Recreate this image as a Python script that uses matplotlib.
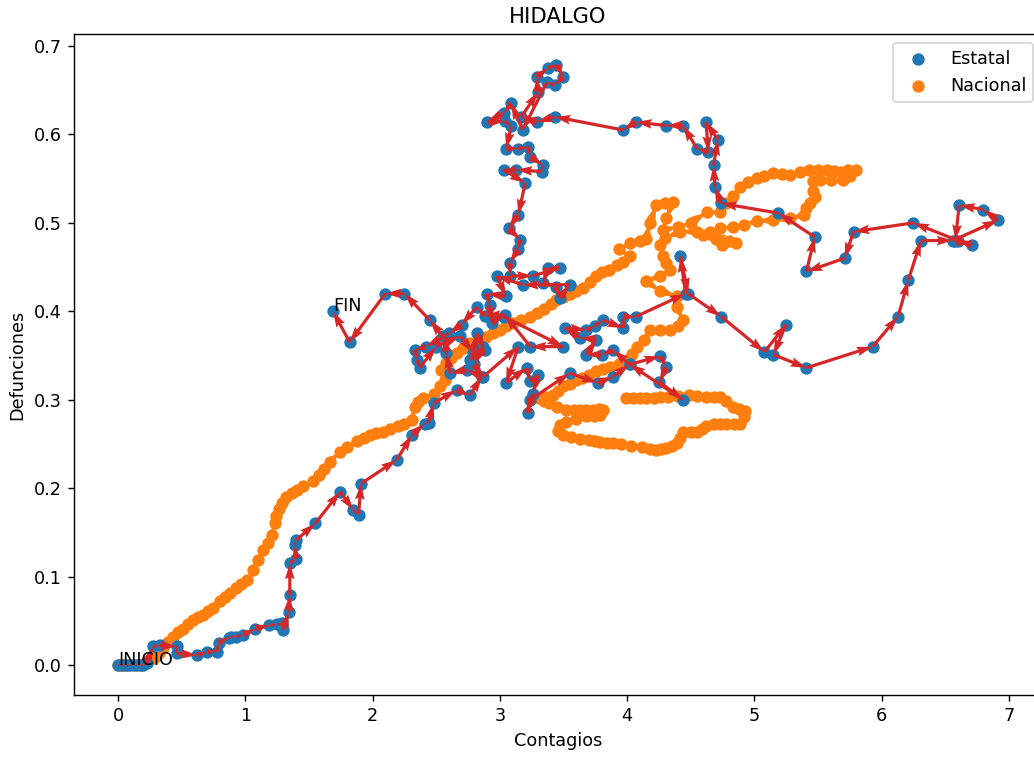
import numpy as np
import matplotlib
matplotlib.use("Agg")
import matplotlib.pyplot as plt

# Estatal (Hidalgo): contagios vs defunciones, in time order
estatal_x = [0.00, 0.03, 0.06, 0.09, 0.12, 0.15, 0.18, 0.20, 0.225, 0.275, 0.33, 0.46, 0.46,
             0.62, 0.70, 0.775, 0.79, 0.87, 0.89, 0.93, 0.985, 1.08, 1.19, 1.25, 1.29, 1.30,
             1.34, 1.35, 1.35, 1.40, 1.39, 1.40, 1.55, 1.745, 1.85, 1.89, 1.91, 2.19, 2.31,
             2.41, 2.44, 2.48, 2.66, 2.765, 2.86, 2.74, 2.61, 2.58, 2.57, 2.42, 2.33, 2.35,
             2.37, 2.50, 2.69, 2.79, 2.82, 2.88, 2.765, 2.87, 2.80, 2.87, 3.145, 3.05, 3.21,
             3.24, 3.30, 3.26, 3.22, 3.24, 3.55, 3.77, 3.89, 4.02, 4.26, 4.31, 4.255, 4.44,
             4.02, 3.89, 3.80, 3.68, 3.76, 3.63, 3.51, 3.68, 3.75, 3.81, 3.97, 3.97, 4.07,
             4.46, 4.42, 4.48, 4.74, 5.08, 5.25, 5.15, 5.41, 5.93, 6.13, 6.21, 6.31, 6.56,
             6.915, 6.80, 6.61, 6.58, 6.71, 6.60, 6.25, 5.78, 5.71, 5.41, 5.475, 5.19, 4.74,
             4.69, 4.68, 4.715, 4.62, 4.64, 4.55, 4.44, 4.31, 4.07, 3.97, 3.43, 3.29, 3.17,
             3.30, 3.29, 3.38, 3.445, 3.50, 3.43, 3.37, 3.18, 3.09, 3.03, 2.90, 3.04, 3.09,
             3.05, 3.145, 3.22, 3.24, 3.34, 3.33, 3.13, 3.03, 3.20, 3.145, 3.07, 3.16, 3.145,
             3.08, 3.08, 3.26, 3.47, 3.38, 3.34, 3.44, 3.47, 3.55, 3.18, 2.975, 3.05, 2.90,
             2.92, 2.935, 3.03, 3.50, 3.24, 3.04, 2.88, 2.82, 2.70, 2.60, 2.55, 2.45, 2.25,
             2.10, 1.82, 1.69]
estatal_y = [0.000, 0.000, 0.000, 0.000, 0.000, 0.000, 0.000, 0.000, 0.002, 0.021, 0.022, 0.021, 0.013,
             0.011, 0.015, 0.015, 0.025, 0.031, 0.032, 0.032, 0.034, 0.041, 0.045, 0.046, 0.047, 0.040,
             0.060, 0.079, 0.115, 0.120, 0.136, 0.141, 0.160, 0.196, 0.175, 0.170, 0.205, 0.232, 0.260,
             0.273, 0.274, 0.296, 0.311, 0.305, 0.326, 0.334, 0.330, 0.353, 0.372, 0.360, 0.356, 0.345,
             0.336, 0.360, 0.372, 0.353, 0.375, 0.356, 0.345, 0.360, 0.340, 0.326, 0.360, 0.319, 0.336,
             0.321, 0.328, 0.307, 0.285, 0.300, 0.330, 0.319, 0.326, 0.340, 0.349, 0.337, 0.320, 0.300,
             0.340, 0.356, 0.351, 0.351, 0.368, 0.370, 0.381, 0.379, 0.383, 0.390, 0.381, 0.394, 0.394,
             0.420, 0.462, 0.420, 0.394, 0.354, 0.385, 0.351, 0.336, 0.360, 0.394, 0.435, 0.480, 0.480,
             0.503, 0.515, 0.520, 0.480, 0.475, 0.480, 0.500, 0.490, 0.460, 0.445, 0.484, 0.511, 0.522,
             0.541, 0.565, 0.594, 0.614, 0.580, 0.584, 0.610, 0.610, 0.614, 0.605, 0.620, 0.614, 0.620,
             0.648, 0.665, 0.675, 0.679, 0.665, 0.656, 0.659, 0.605, 0.635, 0.624, 0.614, 0.615, 0.609,
             0.584, 0.584, 0.586, 0.575, 0.565, 0.558, 0.560, 0.560, 0.545, 0.509, 0.494, 0.481, 0.470,
             0.455, 0.440, 0.440, 0.449, 0.449, 0.432, 0.428, 0.415, 0.430, 0.430, 0.440, 0.417, 0.420,
             0.407, 0.387, 0.394, 0.360, 0.360, 0.396, 0.395, 0.405, 0.385, 0.375, 0.372, 0.390, 0.420,
             0.420, 0.365, 0.400]

# Nacional: contagios vs defunciones, in time order
nacional_x = [0.0, 0.016, 0.05, 0.09, 0.13, 0.17, 0.22, 0.28, 0.32, 0.356, 0.39, 0.43, 0.47, 0.51,
              0.55, 0.59, 0.63, 0.67, 0.71, 0.75, 0.80, 0.84, 0.88, 0.93, 0.97, 1.01, 1.06, 1.10,
              1.14, 1.18, 1.21, 1.23, 1.245, 1.265, 1.285, 1.32, 1.365, 1.41, 1.455, 1.53, 1.58,
              1.62, 1.665, 1.745, 1.80, 1.875, 1.93, 1.98, 2.03, 2.08, 2.14, 2.20, 2.25, 2.31,
              2.33, 2.36, 2.40, 2.48, 2.53, 2.57, 2.54, 2.58, 2.62, 2.66, 2.71, 2.765, 2.83,
              2.895, 2.95, 3.0, 3.05, 3.105, 3.17, 3.24, 3.29, 3.345, 3.40, 3.445, 3.50, 3.55,
              3.60, 3.655, 3.71, 3.76, 3.80, 3.86, 3.92, 3.97, 4.02, 3.94, 4.02, 4.10, 4.15,
              4.18, 4.23, 4.30, 4.36, 4.31, 4.28, 4.40, 4.50, 4.625, 4.73, 4.78, 4.83, 4.885,
              4.95, 5.02, 5.08, 5.15, 5.22, 5.28, 5.36, 5.43, 5.50, 5.57, 5.63, 5.68, 5.74,
              5.80, 5.75, 5.70, 5.60, 5.52, 5.46, 5.46, 5.475, 5.44, 5.41, 5.39, 5.28, 5.15,
              5.02, 4.92, 4.83, 4.73, 4.65, 4.60, 4.70, 4.75, 4.86, 4.80, 4.65, 4.55, 4.42,
              4.30, 4.26, 4.285, 4.31, 4.34, 4.26, 4.15, 4.26, 4.39, 4.39, 4.44, 4.40, 4.34,
              4.26, 4.18, 4.13, 4.08, 4.04, 4.0, 3.94, 3.87, 3.81, 3.76, 3.70, 3.65, 3.60,
              3.55, 3.50, 3.46, 3.42, 3.36, 3.31, 3.35, 3.39, 3.45, 3.52, 3.58, 3.63, 3.68,
              3.73, 3.78, 3.81, 3.79, 3.74, 3.68, 3.60, 3.52, 3.47, 3.46, 3.50, 3.56, 3.63,
              3.70, 3.75, 3.79, 3.84, 3.89, 3.95, 4.03, 4.12, 4.18, 4.23, 4.27, 4.31, 4.35,
              4.39, 4.42, 4.44, 4.50, 4.55, 4.59, 4.62, 4.68, 4.73, 4.78, 4.84, 4.89, 4.92,
              4.93, 4.88, 4.83, 4.78, 4.73, 4.68, 4.62, 4.55, 4.49, 4.40, 4.32, 4.26, 4.21,
              4.15, 4.10, 4.05, 3.995]
nacional_y = [0.0, 0.0, 0.0, 0.0, 0.0, 0.0, 0.003, 0.008, 0.013, 0.019, 0.026, 0.032, 0.037, 0.041,
              0.046, 0.051, 0.054, 0.057, 0.061, 0.064, 0.072, 0.077, 0.081, 0.087, 0.091, 0.096, 0.107, 0.119,
              0.130, 0.138, 0.147, 0.160, 0.168, 0.176, 0.183, 0.190, 0.194, 0.198, 0.202, 0.208, 0.215,
              0.222, 0.230, 0.241, 0.247, 0.253, 0.257, 0.260, 0.262, 0.264, 0.267, 0.270, 0.273, 0.277,
              0.292, 0.297, 0.302, 0.307, 0.315, 0.322, 0.334, 0.341, 0.347, 0.353, 0.358, 0.364, 0.368,
              0.371, 0.375, 0.379, 0.383, 0.387, 0.390, 0.394, 0.398, 0.403, 0.408, 0.413, 0.416, 0.419,
              0.423, 0.426, 0.433, 0.440, 0.444, 0.447, 0.452, 0.456, 0.462, 0.470, 0.477, 0.479, 0.482,
              0.500, 0.520, 0.522, 0.524, 0.505, 0.492, 0.495, 0.500, 0.512, 0.512, 0.522, 0.530, 0.540,
              0.546, 0.551, 0.553, 0.556, 0.555, 0.554, 0.557, 0.560, 0.560, 0.560, 0.559, 0.558, 0.560,
              0.560, 0.553, 0.548, 0.548, 0.548, 0.547, 0.536, 0.529, 0.522, 0.517, 0.509, 0.505, 0.503,
              0.502, 0.498, 0.495, 0.494, 0.490, 0.486, 0.482, 0.475, 0.477, 0.480, 0.487, 0.490, 0.490,
              0.483, 0.475, 0.462, 0.455, 0.447, 0.440, 0.434, 0.423, 0.417, 0.405, 0.390, 0.383, 0.379,
              0.379, 0.379, 0.368, 0.360, 0.352, 0.345, 0.340, 0.337, 0.335, 0.333, 0.328, 0.325, 0.322,
              0.318, 0.315, 0.310, 0.305, 0.303, 0.302, 0.298, 0.296, 0.292, 0.288, 0.288, 0.288, 0.288,
              0.288, 0.290, 0.288, 0.283, 0.282, 0.281, 0.278, 0.275, 0.271, 0.265, 0.260, 0.258, 0.256,
              0.254, 0.253, 0.252, 0.251, 0.251, 0.250, 0.248, 0.246, 0.244, 0.243, 0.244, 0.245, 0.248,
              0.251, 0.257, 0.264, 0.264, 0.264, 0.267, 0.270, 0.272, 0.272, 0.273, 0.273, 0.273, 0.280,
              0.287, 0.290, 0.292, 0.298, 0.303, 0.303, 0.303, 0.304, 0.305, 0.304, 0.303, 0.303, 0.302,
              0.302, 0.302, 0.302, 0.302]

estado = "HIDALGO"
DPI = 127


def trayectoria(ax, x, y, color_pts, color_arrow, label, z):
    x = np.asarray(x)
    y = np.asarray(y)
    sc = ax.scatter(x, y, color=color_pts, label=label, zorder=z)
    ax.quiver(x[:-1], y[:-1], np.diff(x), np.diff(y), angles="xy",
              scale_units="xy", scale=1, width=0.0033, color=color_arrow,
              zorder=z + 0.5)
    return sc


fig = plt.figure(figsize=(1034 / DPI, 757 / DPI), dpi=DPI)
ax = fig.add_axes([74 / 1034, 62 / 757, 968 / 1034, 661 / 757])

trayectoria(ax, estatal_x, estatal_y, "C0", "tab:red", "Estatal", 2)
trayectoria(ax, nacional_x, nacional_y, "C1", "C1", "Nacional", 1)

ax.text(estatal_x[0], estatal_y[0], "INICIO", zorder=5)
ax.text(estatal_x[-1], estatal_y[-1], "FIN", zorder=5)

ax.set_xlim(-0.346, 7.261)
ax.set_ylim(-0.034, 0.7136)
ax.set_title(estado)
ax.set_xlabel("Contagios")
ax.set_ylabel("Defunciones")
ax.legend(loc="upper right")

fig.savefig("out.png", dpi=DPI)
